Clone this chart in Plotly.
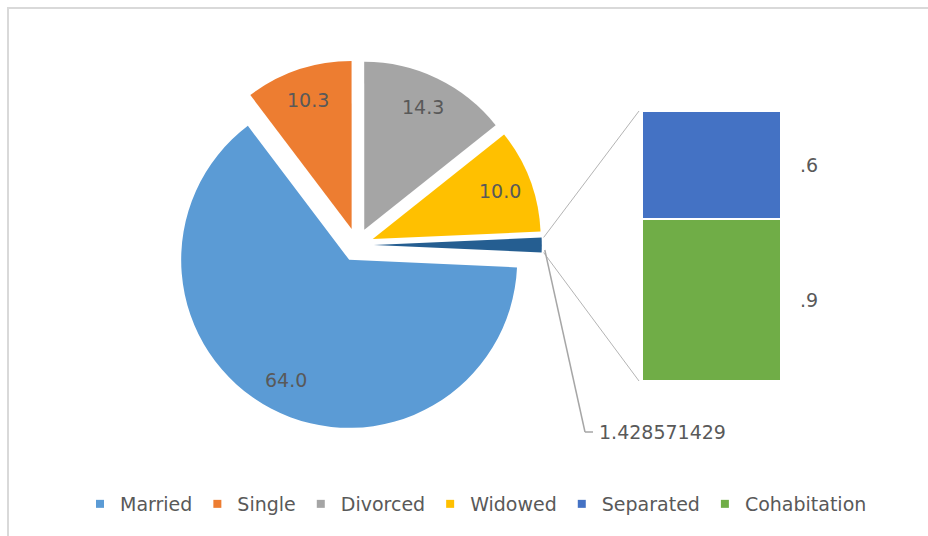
import math
import plotly.graph_objects as go

# ---- data -------------------------------------------------------------
categories = ["Married", "Single", "Divorced", "Widowed"]
pie_values = [64.0, 10.3, 14.3, 10.0]
pie_colors = ["#5B9BD5", "#ED7D31", "#A5A5A5", "#FFC000"]

bar_categories = ["Separated", "Cohabitation"]
bar_values = [0.571428572, 0.857142857]
bar_colors = ["#4472C4", "#70AD47"]
other_color = "#255E91"

other_total = sum(bar_values)

# ---- page / style -----------------------------------------------------
W, H = 928, 536
FONT = "DejaVu Sans"
TEXT = "#595959"
LABEL_SIZE = 19


def px(x):
    return x / W


def py(y):
    return 1 - y / H


# pie geometry (pixels): centre, radius, explode fraction
cx, cy, r, pull = 357, 245, 168, 0.1
box = 2 * r * (1 + pull)

values = pie_values + [other_total]
labels = categories + ["Other"]
colors = pie_colors + [other_color]
total = sum(values)
other_deg = other_total / total * 360
# first slice starts just below 3 o'clock so the "Other" slice is centred on it
rotation = 90 + other_deg / 2

fig = go.Figure()

fig.add_trace(go.Pie(
    labels=labels,
    values=values,
    sort=False,
    direction="clockwise",
    rotation=rotation,
    pull=[pull] * len(values),
    marker=dict(colors=colors, line=dict(width=0)),
    textinfo="none",
    hoverinfo="label+value",
    showlegend=False,
    domain=dict(x=[px(cx - box / 2 - 20), px(cx + box / 2 + 20)],
                y=[py(cy + box / 2), py(cy - box / 2)]),
))

# value labels inside the exploded slices
annotations = []
start = rotation
for lab, val in zip(labels, values):
    span = val / total * 360
    mid = math.radians(start + span / 2)
    start += span
    if lab == "Other":
        continue
    vx = cx + pull * r * math.sin(mid)
    vy = cy - pull * r * math.cos(mid)
    f = 0.81
    annotations.append(dict(
        x=px(vx + f * r * math.sin(mid)), y=py(vy - f * r * math.cos(mid)),
        xref="paper", yref="paper", text=f"{val:.1f}", showarrow=False,
        xanchor="center", yanchor="middle",
        font=dict(family=FONT, size=LABEL_SIZE, color=TEXT),
    ))

# ---- stacked bar that breaks down the "Other" slice -------------------
bar_left, bar_right, bar_top, bar_bottom = 642, 781, 111, 381
order = list(range(len(bar_categories)))[::-1]  # last category at the bottom
for i in order:
    fig.add_trace(go.Bar(
        x=[0], y=[bar_values[i]], width=1, name=bar_categories[i],
        marker=dict(color=bar_colors[i], line=dict(color="white", width=2)),
        xaxis="x2", yaxis="y2", showlegend=False,
        hoverinfo="name+y",
    ))

cum = 0
for i in order:
    annotations.append(dict(
        x=0.5, y=cum + bar_values[i] / 2, xref="x2", yref="y2",
        text=f"{bar_values[i]:.1f}".lstrip("0"), showarrow=False,
        xanchor="left", yanchor="middle", xshift=17,
        font=dict(family=FONT, size=LABEL_SIZE, color=TEXT),
    ))
    cum += bar_values[i]

# ---- connector lines and leader ---------------------------------------
ov_x = cx + pull * r          # vertex of the exploded "Other" slice
ov_y = cy
half = math.radians(other_deg / 2)
up = (ov_x + r * math.cos(half), ov_y - r * math.sin(half))
lo = (ov_x + r * math.cos(half), ov_y + r * math.sin(half))
shapes = [
    dict(type="line", xref="paper", yref="paper",
         x0=px(up[0] + 2), y0=py(up[1]), x1=px(bar_left - 3), y1=py(bar_top),
         line=dict(color="#B4B4B4", width=1)),
    dict(type="line", xref="paper", yref="paper",
         x0=px(lo[0] + 2), y0=py(lo[1]), x1=px(bar_left - 3), y1=py(bar_bottom),
         line=dict(color="#B4B4B4", width=1)),
]

lab_x, lab_y = 597, 432
leader_start = (ov_x + r + 3, ov_y + 5)
shapes += [
    dict(type="line", xref="paper", yref="paper",
         x0=px(leader_start[0]), y0=py(leader_start[1]),
         x1=px(lab_x - 12), y1=py(lab_y),
         line=dict(color="#A6A6A6", width=1.5)),
    dict(type="line", xref="paper", yref="paper",
         x0=px(lab_x - 12), y0=py(lab_y), x1=px(lab_x - 4), y1=py(lab_y),
         line=dict(color="#A6A6A6", width=1.5)),
]
annotations.append(dict(
    x=px(lab_x), y=py(lab_y), xref="paper", yref="paper",
    text=f"{other_total:.9f}", showarrow=False, xanchor="left", yanchor="middle",
    font=dict(family=FONT, size=LABEL_SIZE, color=TEXT),
))

# chart-area border
shapes.append(dict(type="rect", xref="paper", yref="paper",
                   x0=px(8), y0=py(8), x1=1.02, y1=-0.02,
                   line=dict(color="#D9D9D9", width=2), layer="below"))

# ---- legend entries ---------------------------------------------------
for name, col in zip(categories + bar_categories, pie_colors + bar_colors):
    fig.add_trace(go.Scatter(
        x=[None], y=[None], mode="markers", name=name,
        marker=dict(symbol="square", size=8, color=col),
        xaxis="x2", yaxis="y2", showlegend=True,
    ))

fig.update_layout(
    width=W, height=H,
    margin=dict(l=0, r=0, t=0, b=0),
    paper_bgcolor="white", plot_bgcolor="white",
    barmode="stack", bargap=0,
    font=dict(family=FONT, color=TEXT),
    xaxis=dict(visible=False),
    yaxis=dict(visible=False),
    xaxis2=dict(domain=[px(bar_left), px(bar_right)], range=[-0.5, 0.5],
                visible=False, anchor="y2", fixedrange=True),
    yaxis2=dict(domain=[py(bar_bottom), py(bar_top)], range=[0, other_total],
                visible=False, anchor="x2", fixedrange=True),
    legend=dict(orientation="h", x=px(476), xanchor="center",
                y=py(504), yanchor="middle", itemwidth=30,
                font=dict(family=FONT, size=19, color=TEXT),
                traceorder="normal", bgcolor="rgba(0,0,0,0)"),
    shapes=shapes,
    annotations=annotations,
)

fig.write_html("out.html")
